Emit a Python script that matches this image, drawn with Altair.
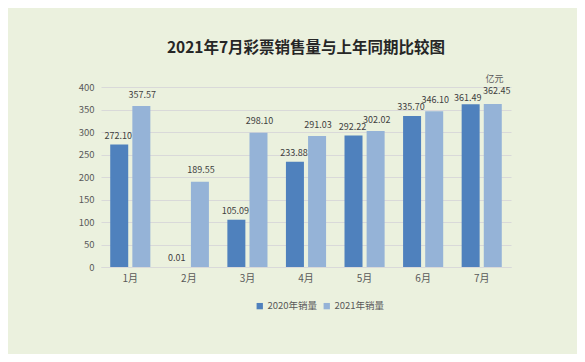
import altair as alt
import pandas as pd

months = ["1月", "2月", "3月", "4月", "5月", "6月", "7月"]
sales_2020 = [272.10, 0.01, 105.09, 233.88, 292.22, 335.70, 361.49]
sales_2021 = [357.57, 189.55, 298.10, 291.03, 302.02, 346.10, 362.45]
series = ["2020年销量", "2021年销量"]
colors = ["#4F81BD", "#95B3D7"]
y_ticks = [0, 50, 100, 150, 200, 250, 300, 350, 400]

rows = []
for m, a, b in zip(months, sales_2020, sales_2021):
    rows.append({"月份": m, "系列": series[0], "值": a})
    rows.append({"月份": m, "系列": series[1], "值": b})
df = pd.DataFrame(rows)

FONT = "Noto Sans CJK SC"

x = alt.X("月份:N", sort=months,
          scale=alt.Scale(paddingInner=0.32, paddingOuter=0.16),
          axis=alt.Axis(title=None, labelAngle=0, ticks=False, domainColor="#D9D9D9",
                        labelColor="#595959", labelFontSize=10, labelPadding=6, labelFont=FONT))
y = alt.Y("值:Q", scale=alt.Scale(domain=[0, 400], nice=False),
          axis=alt.Axis(title="亿元", titleAngle=0, titleX=393, titleY=-9, titleAlign="center",
                        titleBaseline="middle", titleFontSize=9,
                        titleFontWeight="normal", titleColor="#595959", titleFont=FONT,
                        values=y_ticks, tickCount=len(y_ticks) + 1, labelOverlap=False,
                        domain=False, ticks=False, gridColor="#D9D9D9",
                        labelColor="#595959", labelFontSize=9.5, labelPadding=7, labelFont=FONT))
xo = alt.XOffset("系列:N", sort=series, scale=alt.Scale(paddingInner=0.2, paddingOuter=0))

bars = alt.Chart(df).mark_bar(size=18).encode(
    x=x, y=y, xOffset=xo,
    color=alt.Color("系列:N", sort=series, scale=alt.Scale(domain=series, range=colors),
                    legend=alt.Legend(title=None, orient="none", direction="horizontal",
                                      legendX=154, legendY=214, symbolType="square",
                                      symbolSize=40, labelFontSize=9.5, labelColor="#595959",
                                      labelFont=FONT, columnPadding=4, labelOffset=3,
                                      symbolStrokeWidth=0))
)

txt = dict(baseline="middle", fontSize=9, color="#404040", font=FONT)
text_enc = alt.Text("值:Q", format=".2f")
tx = alt.X("月份:N", sort=months)
ty = alt.Y("值:Q")
to = alt.XOffset("系列:N", sort=series)


def label_layer(month_cond, s, dy, dx):
    return alt.Chart(df).mark_text(dy=dy, dx=dx, **txt).encode(
        x=tx, y=ty, xOffset=to, text=text_enc
    ).transform_filter(month_cond & (alt.datum["系列"] == s))


not_jul = alt.datum["月份"] != "7月"
is_jul = alt.datum["月份"] == "7月"
lab_a = label_layer(not_jul, series[0], -9, -1)
lab_b = label_layer(not_jul, series[1], -11.5, 1)
lab_ja = label_layer(is_jul, series[0], -6, -3)
lab_jb = label_layer(is_jul, series[1], -13, 4)

chart = alt.layer(bars, lab_a, lab_b, lab_ja, lab_jb).properties(
    width=410, height=180,
    autosize=alt.AutoSizeParams(type="none"),
    padding={"left": 93, "top": 79, "right": 66, "bottom": 87},
    background="#EBF1DE",
    title=alt.TitleParams("2021年7月彩票销售量与上年同期比较图", anchor="middle", dy=2,
                          fontSize=15.5, font=FONT, fontWeight="bold", color="#262626", offset=20),
).configure_view(stroke=None)

chart.save("out.html", embed_options={"renderer": "svg", "actions": False})
